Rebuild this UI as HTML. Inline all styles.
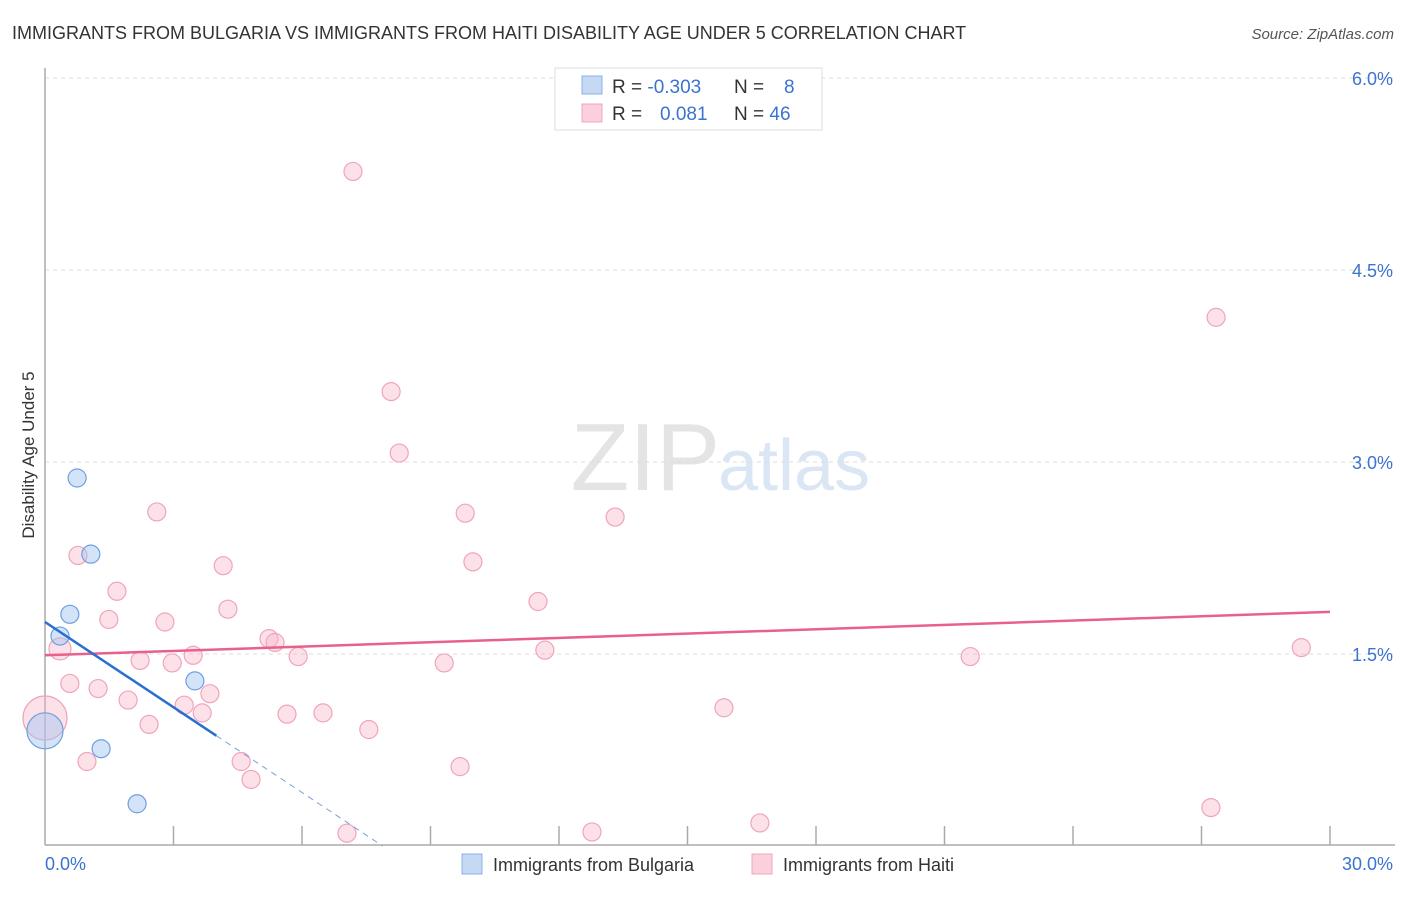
<!DOCTYPE html>
<html><head><meta charset="utf-8"><style>
body{margin:0;background:#fff;font-family:"Liberation Sans",sans-serif;}
svg text{font-family:"Liberation Sans",sans-serif;}
</style></head><body>
<svg width="1406" height="892" xmlns="http://www.w3.org/2000/svg">
<text x="12" y="39" font-size="18" fill="#333">IMMIGRANTS FROM BULGARIA VS IMMIGRANTS FROM HAITI DISABILITY AGE UNDER 5 CORRELATION CHART</text>
<text x="1394" y="39" font-size="15" fill="#555" font-style="italic" text-anchor="end">Source: ZipAtlas.com</text>
<text x="720" y="490" font-size="96" fill="#e4e4e4" text-anchor="end" font-family="Liberation Serif">ZIP</text>
<text x="718" y="490" font-size="72" fill="#dbe6f5">atlas</text>
<g id="grid"></g><g id="axes"></g>
<text transform="translate(34,455) rotate(-90)" font-size="17" fill="#333" text-anchor="middle">Disability Age Under 5</text>
<g id="pts"></g><g id="trend"></g>
<g>
<rect x="555" y="68" width="267" height="62" fill="#fff" stroke="#ddd"/>
<rect x="582" y="76" width="20" height="18" fill="#c5d9f5" stroke="#8ab0e8"/>
<rect x="582" y="104" width="20" height="18" fill="#fbd0dc" stroke="#f0a4bb"/>
<text x="612" y="93" font-size="19" fill="#333">R = <tspan fill="#3a73d0">-0.303</tspan></text>
<text x="734" y="93" font-size="19" fill="#333">N = <tspan x="784" fill="#3a73d0">8</tspan></text>
<text x="612" y="120" font-size="19" fill="#333">R = <tspan x="660" fill="#3a73d0">0.081</tspan></text>
<text x="734" y="120" font-size="19" fill="#333">N = <tspan fill="#3a73d0">46</tspan></text>
</g>
<g>
<rect x="462" y="854" width="20" height="20" fill="#c5d9f5" stroke="#8ab0e8"/>
<text x="493" y="871" font-size="18" fill="#333">Immigrants from Bulgaria</text>
<rect x="752" y="854" width="20" height="20" fill="#fbd0dc" stroke="#f0a4bb"/>
<text x="783" y="871" font-size="18" fill="#333">Immigrants from Haiti</text>
</g>
</svg>
<script>
const yTicks=[1.5,3.0,4.5,6.0];
const xTickLabels=["0.0%","30.0%"];
const bulgariaX=[0.75,1.07,0.58,0.35,3.50,1.31,2.15,0.0];
const bulgariaY=[2.875,2.28,1.81,1.64,1.29,0.76,0.33,0.90];
const bulgariaR=[9,9,9,9,9,9,9,18];
const haitiX=[7.19,27.34,8.08,8.27,2.61,9.81,13.31,0.77,9.99,4.16,1.68,11.51,4.27,1.49,2.80,5.23,5.37,0.35,11.67,29.33,3.46,5.91,21.60,2.22,2.97,9.32,0.58,1.24,3.85,1.94,3.25,15.85,3.67,6.49,5.65,2.43,7.56,0.0,0.98,4.58,9.69,4.81,27.22,7.05,16.69,12.77];
const haitiY=[5.27,4.13,3.55,3.07,2.61,2.60,2.57,2.27,2.22,2.19,1.99,1.91,1.85,1.77,1.75,1.62,1.59,1.54,1.53,1.55,1.49,1.48,1.48,1.45,1.43,1.43,1.27,1.23,1.19,1.14,1.10,1.08,1.04,1.04,1.03,0.95,0.91,1.0,0.66,0.66,0.62,0.52,0.30,0.10,0.18,0.11];
const bulgariaTrend=[1.75,-0.222]; // intercept, slope
const haitiTrend=[1.49,0.0113];
const NS="http://www.w3.org/2000/svg";
const X0=45,X1=1330,Y0=846;
const sx=v=>X0+v/30*(X1-X0);
const sy=v=>Y0-v*128;
function mk(tag,attrs,parent){const e=document.createElementNS(NS,tag);for(const k in attrs)e.setAttribute(k,attrs[k]);parent.appendChild(e);return e;}
const grid=document.getElementById('grid'),axes=document.getElementById('axes'),pts=document.getElementById('pts'),trend=document.getElementById('trend');
yTicks.forEach(t=>{
 const l=mk('line',{x1:X0,x2:1395,y1:sy(t),y2:sy(t),stroke:'#ddd','stroke-dasharray':'4,4'},grid);
 
 
 const tx=mk('text',{x:1393,y:sy(t)+7,'font-size':18,fill:'#3a73d0','text-anchor':'end'},grid);
 tx.textContent=t.toFixed(1)+'%';
 
 
});
const ya=mk('line',{x1:X0,x2:X0,y1:68,y2:845,stroke:'#aaa','stroke-width':1.5},axes);


const xa=mk('line',{x1:X0,x2:1395,y1:845,y2:845,stroke:'#aaa','stroke-width':1.5},axes);


for(let v=3;v<=30;v+=3){
 const t=mk('line',{x1:sx(v),x2:sx(v),y1:826,y2:845,stroke:'#aaa','stroke-width':1.5},axes);
 
 
}
[[0,'start',45],[30,'end',1393]].forEach((d,i)=>{
 const t=mk('text',{x:d[2],y:870,'font-size':18,fill:'#3a73d0','text-anchor':d[1]},axes);
 t.textContent=xTickLabels[i];
 
 
});
haitiX.forEach((x,i)=>{
 const r=(x===0)?22:(i===17?11:9);
 const c=mk('circle',{cx:sx(x),cy:sy(haitiY[i]),r:r,fill:'rgba(248,180,200,0.4)',stroke:'#f0a4bb','stroke-width':1.2},pts);
 
 
});
bulgariaX.forEach((x,i)=>{
 const c=mk('circle',{cx:sx(x),cy:sy(bulgariaY[i]),r:bulgariaR[i],fill:'rgba(160,195,240,0.45)',stroke:'#6f9fe0','stroke-width':1.2},pts);
 
 
});
const ht=mk('line',{x1:sx(0),y1:sy(haitiTrend[0]),x2:sx(30),y2:sy(haitiTrend[0]+30*haitiTrend[1]),stroke:'#e8608c','stroke-width':2.5},trend);


const bEnd=4.0,bZero=-bulgariaTrend[0]/bulgariaTrend[1];
const bs=mk('line',{x1:sx(0),y1:sy(bulgariaTrend[0]),x2:sx(bEnd),y2:sy(bulgariaTrend[0]+bEnd*bulgariaTrend[1]),stroke:'#2a6fd0','stroke-width':2.5},trend);


const bd=mk('line',{x1:sx(bEnd),y1:sy(bulgariaTrend[0]+bEnd*bulgariaTrend[1]),x2:sx(bZero),y2:sy(0),stroke:'#7a9fd8','stroke-width':1,'stroke-dasharray':'6,5'},trend);


</script>
</body></html>
